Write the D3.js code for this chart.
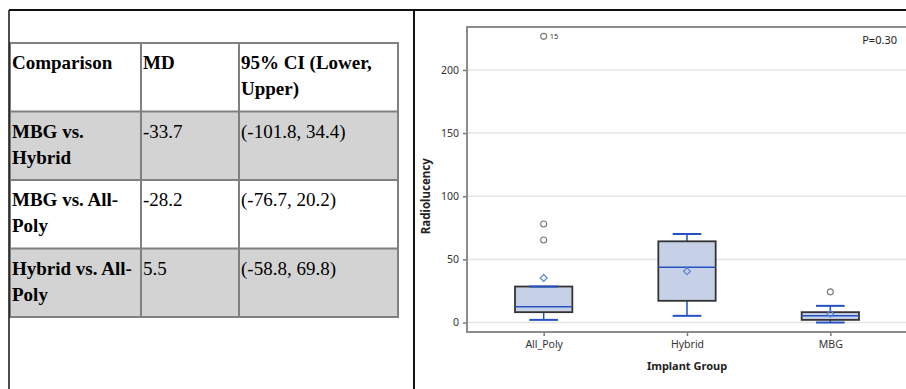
<!DOCTYPE html>
<html>
<head>
<meta charset="utf-8">
<script src="https://cdn.jsdelivr.net/npm/d3@7"></script>
<style>
  html, body { margin: 0; padding: 0; background: #fff; }
  svg { display: block; }
</style>
</head>
<body>
<svg id="fig" width="906" height="389"></svg>
<script>
// table data
const headers = ["Comparison", "MD", "95% CI (Lower, Upper)"];
const comparisons = ["MBG vs. Hybrid", "MBG vs. All-Poly", "Hybrid vs. All-Poly"];
const mdValues = ["-33.7", "-28.2", "5.5"];
const ciValues = ["(-101.8, 34.4)", "(-76.7, 20.2)", "(-58.8, 69.8)"];

// box plot data
const groups = ["All_Poly", "Hybrid", "MBG"];
const whiskerLow = [2.1, 5.3, 0];
const q1 = [8.2, 17.2, 2.1];
const median = [12.4, 43.8, 5.3];
const q3 = [28.5, 64.3, 8.2];
const whiskerHigh = [28.5, 70.1, 13.2];
const means = [35.3, 40.6, 6.9];
const outliers = [[226.6, 78, 65.3], [], [24.3]];
const outlierIds = [["15", "", ""], [], [""]];
const yTicks = [0, 50, 100, 150, 200];
const pText = "P=0.30";

const svg = d3.select("#fig");

// ---------- page frame ----------
svg.append("line").attr("x1", 9).attr("x2", 906).attr("y1", 10).attr("y2", 10)
    .attr("stroke", "#111").attr("stroke-width", 2);
svg.append("line").attr("x1", 414).attr("x2", 414).attr("y1", 10).attr("y2", 389)
    .attr("stroke", "#111").attr("stroke-width", 2);

// ---------- table ----------
const colX = [10, 141, 239, 398];
const rowY = d3.scaleLinear().domain([0, 4]).range([43, 317]);
const rows = [headers].concat(comparisons.map((c, i) => [c, mdValues[i], ciValues[i]]));

const table = svg.append("g").attr("class", "table");

rows.forEach((row, r) => {
    const top = rowY(r);
    const h = rowY(r + 1) - top;
    table.append("rect")
        .attr("x", colX[0]).attr("y", top)
        .attr("width", colX[3] - colX[0]).attr("height", h)
        .attr("fill", r % 2 === 1 ? "#d3d3d3" : "#ffffff");

    row.forEach((cell, c) => {
        const bold = r === 0 || c === 0;
        const t = table.append("text")
            .attr("font-family", "'Liberation Serif', 'Times New Roman', serif")
            .attr("font-size", 19)
            .attr("font-weight", bold ? 700 : 400)
            .attr("fill", "#000");
        wrap(t, cell, colX[c] + 2, top + 26, colX[c + 1] - colX[c] - 5);
    });
});

// grid lines of the table
rowY.ticks(4).forEach(i => {
    table.append("line")
        .attr("x1", colX[0]).attr("x2", colX[3])
        .attr("y1", rowY(i)).attr("y2", rowY(i))
        .attr("stroke", "#808080").attr("stroke-width", 2);
});
colX.forEach(x => {
    table.append("line")
        .attr("x1", x).attr("x2", x)
        .attr("y1", rowY(0) - 1).attr("y2", rowY(4) + 1)
        .attr("stroke", "#808080").attr("stroke-width", 2);
});
// outer left page border sits on top of the table edge
svg.append("line").attr("x1", 9).attr("x2", 9).attr("y1", 10).attr("y2", 389)
    .attr("stroke", "#111").attr("stroke-width", 1.5);

function wrap(textSel, str, x, y, maxW) {
    // break on spaces and after hyphens
    const tokens = str.match(/[^\s-]*-|[^\s-]+|\s+/g) || [];
    const lines = [];
    let line = "";
    const probe = textSel.append("tspan");
    tokens.forEach(tok => {
        const test = line + tok;
        probe.text(test.trimEnd());
        if (line.trim() && probe.node().getComputedTextLength() > maxW && tok.trim()) {
            lines.push(line.trimEnd());
            line = tok;
        } else {
            line = test;
        }
    });
    if (line.trim()) lines.push(line.trimEnd());
    probe.remove();
    lines.forEach((l, i) => {
        textSel.append("tspan").attr("x", x).attr("y", y + i * 26).text(l);
    });
}

// ---------- box plot ----------
const frame = { left: 467, top: 27, right: 910, bottom: 332 };
const x = d3.scalePoint().domain(groups).range([frame.left, 907]).padding(0.535);
const y = d3.scaleLinear().domain([-7.5, 234]).range([frame.bottom, frame.top]);
const step = x.step();
const boxHalf = step * 0.2;
const capHalf = step * 0.1;
const blue = "#2452c2";
const sans = "'Noto Sans', 'Open Sans', sans-serif";

const plot = svg.append("g").attr("class", "boxplot");

// gridlines
plot.append("g").selectAll("line").data(yTicks).join("line")
    .attr("x1", frame.left).attr("x2", frame.right)
    .attr("y1", d => y(d)).attr("y2", d => y(d))
    .attr("stroke", "#e4e4e4").attr("stroke-width", 1.5);

// axes
const yAxis = plot.append("g")
    .attr("transform", `translate(${frame.left},0)`)
    .call(d3.axisLeft(y).tickValues(yTicks).tickSize(4).tickPadding(4));
const xAxis = plot.append("g")
    .attr("transform", `translate(0,${frame.bottom})`)
    .call(d3.axisBottom(x).tickSize(4).tickPadding(5));
[yAxis, xAxis].forEach(a => {
    a.select(".domain").remove();
    a.selectAll(".tick line").attr("stroke", "#777").attr("stroke-width", 1.5);
    a.selectAll(".tick text").attr("font-family", sans).attr("font-size", 10.5).attr("fill", "#333");
});

// frame
plot.append("rect")
    .attr("x", frame.left).attr("y", frame.top)
    .attr("width", frame.right - frame.left).attr("height", frame.bottom - frame.top)
    .attr("fill", "none").attr("stroke", "#8c8c8c").attr("stroke-width", 2);

// boxes
const box = plot.append("g").selectAll("g").data(groups).join("g");

box.append("line")
    .attr("x1", d => x(d)).attr("x2", d => x(d))
    .attr("y1", (d, i) => y(whiskerLow[i])).attr("y2", (d, i) => y(q1[i]))
    .attr("stroke", blue).attr("stroke-width", 1.5);
box.append("line")
    .attr("x1", d => x(d)).attr("x2", d => x(d))
    .attr("y1", (d, i) => y(q3[i])).attr("y2", (d, i) => y(whiskerHigh[i]))
    .attr("stroke", blue).attr("stroke-width", 1.5);

box.append("rect")
    .attr("x", d => x(d) - boxHalf)
    .attr("width", boxHalf * 2)
    .attr("y", (d, i) => y(q3[i]))
    .attr("height", (d, i) => y(q1[i]) - y(q3[i]))
    .attr("fill", "#c6d1e7").attr("stroke", "#333").attr("stroke-width", 1.8);

box.append("line")
    .attr("x1", d => x(d) - boxHalf).attr("x2", d => x(d) + boxHalf)
    .attr("y1", (d, i) => y(median[i])).attr("y2", (d, i) => y(median[i]))
    .attr("stroke", blue).attr("stroke-width", 1.5);

[whiskerLow, whiskerHigh].forEach(arr => {
    box.append("line")
        .attr("x1", d => x(d) - capHalf).attr("x2", d => x(d) + capHalf)
        .attr("y1", (d, i) => y(arr[i])).attr("y2", (d, i) => y(arr[i]))
        .attr("stroke", blue).attr("stroke-width", 2);
});

// mean diamonds
box.append("path")
    .attr("d", d3.symbol().type(d3.symbolDiamond2).size(30))
    .attr("transform", (d, i) => `translate(${x(d)},${y(means[i])})`)
    .attr("fill", "none").attr("stroke", "#5a84d6").attr("stroke-width", 1.2);

// outliers
groups.forEach((g, gi) => {
    outliers[gi].forEach((v, k) => {
        plot.append("circle")
            .attr("cx", x(g)).attr("cy", y(v)).attr("r", 3)
            .attr("fill", "#fff").attr("stroke", "#777").attr("stroke-width", 1.1);
        if (outlierIds[gi][k]) {
            plot.append("text")
                .attr("x", x(g) + 6).attr("y", y(v) + 3)
                .attr("font-family", sans).attr("font-size", 7.5).attr("fill", "#333")
                .text(outlierIds[gi][k]);
        }
    });
});

// labels
plot.append("text")
    .attr("x", x(groups[1])).attr("y", 370)
    .attr("text-anchor", "middle")
    .attr("font-family", sans).attr("font-size", 11).attr("font-weight", 700).attr("fill", "#222")
    .text("Implant Group");
plot.append("text")
    .attr("transform", `translate(430,${y(100)}) rotate(-90)`)
    .attr("text-anchor", "middle")
    .attr("font-family", sans).attr("font-size", 11.5).attr("font-weight", 700).attr("fill", "#222")
    .text("Radiolucency");
plot.append("text")
    .attr("x", 897).attr("y", 44)
    .attr("text-anchor", "end")
    .attr("font-family", sans).attr("font-size", 11).attr("fill", "#222")
    .text(pText);
</script>
</body>
</html>
